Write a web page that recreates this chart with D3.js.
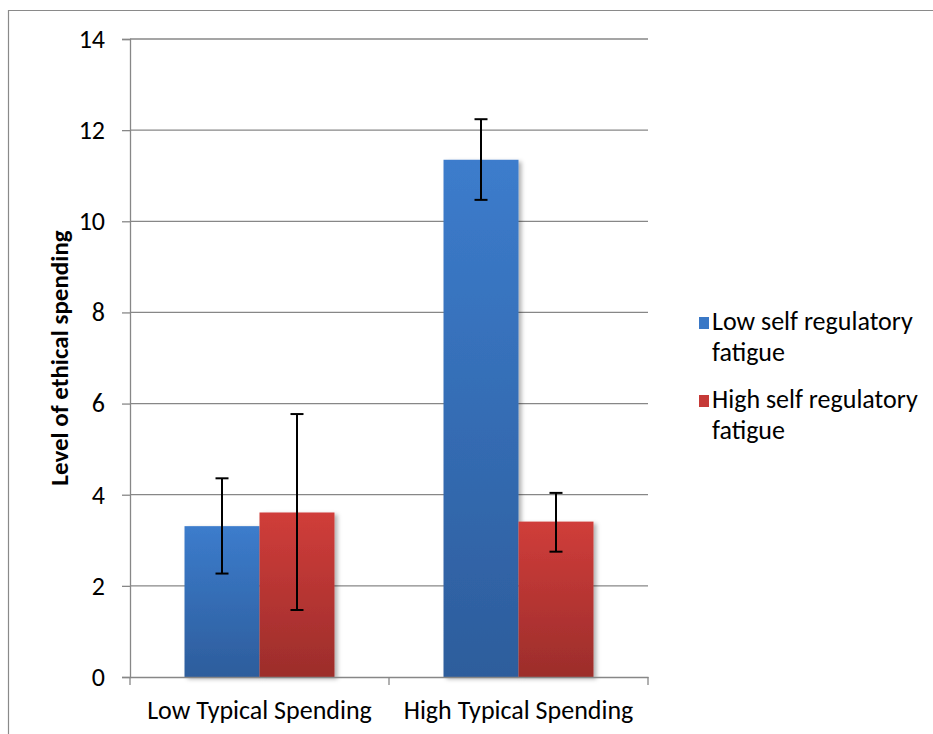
<!DOCTYPE html>
<html><head><meta charset="utf-8">
<script src="https://cdn.jsdelivr.net/npm/d3@7/dist/d3.min.js"></script>
<style>body{margin:0;background:#fff}svg{display:block}text{font-family:Carlito,Calibri,Lato,sans-serif}</style>
</head><body><svg id="c" width="933" height="734"></svg>
<script>
const categories = ["Low Typical Spending", "High Typical Spending"];
const series = ["Low self regulatory fatigue", "High self regulatory fatigue"];
const legendLines = [["Low self regulatory", "fatigue"], ["High self regulatory", "fatigue"]];
const lowFatigue = [3.31, 11.35];
const highFatigue = [3.61, 3.41];
const lowFatigueErrLo = [2.27, 10.47];
const lowFatigueErrHi = [4.36, 12.24];
const highFatigueErrLo = [1.47, 2.75];
const highFatigueErrHi = [5.77, 4.04];
const yTicks = [0, 2, 4, 6, 8, 10, 12, 14];
const yTitle = "Level of ethical spending";

const values = [lowFatigue, highFatigue];
const errLo = [lowFatigueErrLo, highFatigueErrLo];
const errHi = [lowFatigueErrHi, highFatigueErrHi];

const FS = 26;
const svg = d3.select("#c");
const L = 130, R = 648, T = 39, B = 677;
const grid = "#878787";

svg.append("path").attr("d", "M8.5,734 V10.5 H933").attr("fill", "none").attr("stroke", "#8a8a8a").attr("stroke-width", 1.2);

const defs = svg.append("defs");
const g1 = defs.append("linearGradient").attr("id", "gb").attr("x1", 0).attr("y1", 0).attr("x2", 0).attr("y2", 1);
g1.append("stop").attr("offset", "0").attr("stop-color", "#3c7ccc");
g1.append("stop").attr("offset", "1").attr("stop-color", "#2d5d9c");
const g2 = defs.append("linearGradient").attr("id", "gr").attr("x1", 0).attr("y1", 0).attr("x2", 0).attr("y2", 1);
g2.append("stop").attr("offset", "0").attr("stop-color", "#d03d3a");
g2.append("stop").attr("offset", "1").attr("stop-color", "#9c2d2b");
const f = defs.append("filter").attr("id", "sh").attr("x", "-20%").attr("y", "-20%").attr("width", "150%").attr("height", "150%");
f.append("feDropShadow").attr("dx", 3).attr("dy", 2).attr("stdDeviation", 2).attr("flood-color", "#000").attr("flood-opacity", 0.3);
const fills = ["url(#gb)", "url(#gr)"];
const legendFills = ["#3a78c6", "#c63a37"];

const y = d3.scaleLinear().domain([0, 14]).range([B, T]);
const x0 = d3.scaleBand().domain(categories).range([L, R]);
const x1 = d3.scaleBand().domain(series).range([0, x0.bandwidth()]).paddingOuter(0.727);

svg.append("g").selectAll("line").data(yTicks.filter(t => t > 0)).join("line")
  .attr("x1", L).attr("x2", R).attr("y1", d => y(d)).attr("y2", d => y(d))
  .attr("stroke", grid).attr("stroke-width", 1.3);

const ya = svg.append("g").attr("transform", `translate(${L},0)`)
  .call(d3.axisLeft(y).tickValues(yTicks).tickSize(8).tickPadding(17).tickFormat(d3.format("d")));
ya.attr("font-size", FS).attr("font-family", null);
ya.select(".domain").attr("stroke", grid).attr("stroke-width", 1.3);
ya.selectAll(".tick line").attr("stroke", grid).attr("stroke-width", 1.3);
ya.selectAll("text").attr("font-size", FS).attr("fill", "#000");

const groups = svg.append("g").selectAll("g").data(categories).join("g")
  .attr("transform", d => `translate(${x0(d)},0)`);
groups.each(function(cat, ci) {
  const gg = d3.select(this);
  series.forEach((s, si) => {
    gg.append("rect").attr("x", x1(s)).attr("width", x1.bandwidth())
      .attr("y", y(values[si][ci])).attr("height", B - y(values[si][ci]))
      .attr("fill", fills[si]).attr("filter", "url(#sh)");
  });
});

const xa = svg.append("g").attr("transform", `translate(0,${B})`)
  .call(d3.axisBottom(x0).tickSize(0).tickPadding(24));
xa.attr("font-size", FS).attr("font-family", null);
xa.select(".domain").attr("stroke", grid).attr("stroke-width", 1.3);
xa.selectAll("text").attr("font-size", FS).attr("fill", "#000");
const xticks = [L, ...categories.slice(1).map(c => x0(c)), R];
svg.append("g").selectAll("line").data(xticks).join("line")
  .attr("x1", d => d).attr("x2", d => d).attr("y1", B).attr("y2", B + 8)
  .attr("stroke", grid).attr("stroke-width", 1.3);

groups.each(function(cat, ci) {
  const gg = d3.select(this);
  series.forEach((s, si) => {
    const cx = x1(s) + x1.bandwidth() / 2;
    const lo = y(errLo[si][ci]), hi = y(errHi[si][ci]);
    gg.append("line").attr("x1", cx).attr("x2", cx).attr("y1", hi).attr("y2", lo).attr("stroke", "#000").attr("stroke-width", 2);
    [hi, lo].forEach(v => gg.append("line").attr("x1", cx - 6.5).attr("x2", cx + 6.5).attr("y1", v).attr("y2", v).attr("stroke", "#000").attr("stroke-width", 2));
  });
});

svg.append("text").attr("transform", `translate(68,${(T + B) / 2}) rotate(-90)`)
  .attr("text-anchor", "middle").attr("font-size", 25).attr("font-weight", "bold").text(yTitle);

const lg = svg.append("g");
series.forEach((s, i) => {
  const top = 330 + i * 78;
  lg.append("rect").attr("x", 699).attr("y", top - 13).attr("width", 10).attr("height", 12).attr("fill", legendFills[i]);
  legendLines[i].forEach((t, j) => {
    lg.append("text").attr("x", 712).attr("y", top + j * 31).attr("font-size", FS).text(t);
  });
});
</script></body></html>
